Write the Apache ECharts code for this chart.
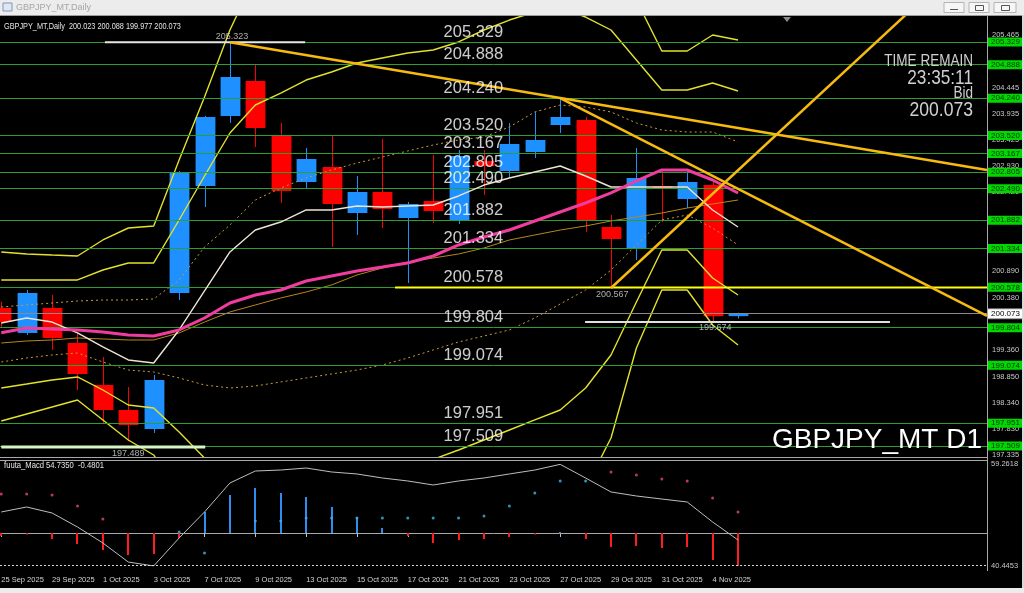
<!DOCTYPE html>
<html><head><meta charset="utf-8">
<script src="https://cdn.jsdelivr.net/npm/echarts@6/dist/echarts.min.js"></script>
<style>html,body{margin:0;padding:0;background:#000;overflow:hidden}#c{width:1024px;height:593px}</style>
</head><body><div id="c"></div>
<script>
const dates = ['25 Sep 2025','26 Sep 2025','29 Sep 2025','30 Sep 2025','1 Oct 2025','2 Oct 2025','3 Oct 2025','6 Oct 2025','7 Oct 2025','8 Oct 2025','9 Oct 2025','10 Oct 2025','13 Oct 2025','14 Oct 2025','15 Oct 2025','16 Oct 2025','17 Oct 2025','20 Oct 2025','21 Oct 2025','22 Oct 2025','23 Oct 2025','24 Oct 2025','27 Oct 2025','28 Oct 2025','29 Oct 2025','30 Oct 2025','31 Oct 2025','3 Nov 2025','4 Nov 2025','5 Nov 2025'];
// open, close, low, high
const candles = [
[200.18,199.91,199.80,200.30],[199.697,200.471,199.658,200.529],[200.181,199.600,199.368,200.432],[199.503,198.903,198.593,199.697],
[198.690,198.206,197.935,199.232],[198.206,197.916,197.600,198.651],[197.838,198.787,197.761,198.884],[200.471,202.794,200.335,202.830],
[202.542,203.878,202.136,203.900],[203.897,204.652,203.762,205.323],[204.575,203.665,203.297,204.884],[203.510,202.445,202.213,203.762],
[202.620,203.065,202.503,203.278],[202.910,202.194,201.361,203.510],[202.019,202.426,201.594,202.736],[202.426,202.097,201.729,203.452],
[201.923,202.194,200.664,202.233],[202.252,202.058,201.826,203.142],[201.884,203.123,201.807,203.239],[203.026,202.929,202.368,203.239],
[202.832,203.355,202.697,203.762],[203.200,203.433,203.084,203.975],[203.723,203.878,203.568,204.226],[203.820,201.865,201.652,203.878],
[201.748,201.516,200.567,201.981],[201.323,202.697,201.110,203.278],[202.542,202.503,201.845,202.852],[202.290,202.620,202.116,202.794],
[202.561,200.023,199.890,202.620],[200.023,200.073,199.977,200.088]];
const maPink = [199.70,199.793,199.774,199.755,199.716,199.658,199.639,199.755,199.987,200.277,200.432,200.529,200.703,200.800,200.897,200.974,201.052,201.187,201.400,201.555,201.690,201.865,202.039,202.213,202.407,202.639,202.852,202.852,202.658,202.407];
const maWhite = [199.890,199.987,199.909,199.697,199.426,199.174,199.116,199.755,200.510,201.265,201.690,201.845,202.078,202.078,202.155,202.136,202.155,202.174,202.349,202.561,202.697,202.813,202.929,202.736,202.523,202.523,202.523,202.523,202.078,201.748];
const maSlow = [199.503,199.542,199.561,199.600,199.581,199.561,199.561,199.697,199.909,200.103,200.239,200.374,200.490,200.626,200.819,200.955,201.071,201.148,201.226,201.342,201.497,201.594,201.690,201.768,201.865,201.942,202.019,202.116,202.194,202.271];
const bandOuterUp = [201.265,201.226,201.206,201.187,201.497,201.729,201.768,203.045,204.265,205.562,206.6,207.2,207.3,207.2,207.1,207.0,206.9,206.8,206.8,206.9,207.0,207.1,207.2,207.0,206.5,206.14,205.155,205.155,205.465,205.368];
const bandInnerUp = [200.723,200.723,200.723,200.723,200.916,201.052,201.052,201.884,202.736,203.568,204.110,204.342,204.594,204.749,204.923,205.020,205.117,205.175,205.330,205.562,205.755,205.91,205.99,205.813,205.562,204.981,204.400,204.400,204.536,204.381];
const bandInnerLow = [198.632,198.709,198.787,198.845,198.593,198.303,198.245,197.780,197.277,196.6,196.3,196.1,196.0,196.0,196.1,196.3,196.7,197.25,197.432,197.625,197.819,198.013,198.206,198.632,199.271,200.297,201.303,201.303,200.761,200.432];
const bandOuterLow = [197.993,198.129,198.264,198.400,198.013,197.625,197.335,196.6,196.0,195.6,195.3,195.1,195.0,195.0,195.0,195.1,195.3,195.6,195.9,196.2,196.4,196.6,196.8,196.7,197.664,199.406,200.529,200.529,199.851,199.464];
const dashUp = [200.200,200.239,200.277,200.316,200.335,200.335,200.355,200.723,201.361,201.787,202.271,202.503,202.697,202.852,202.987,203.103,203.220,203.336,203.433,203.491,203.684,203.975,204.110,204.071,203.975,203.762,203.626,203.587,203.587,203.394];
const dashLow = [199.135,199.213,199.271,199.309,199.135,198.980,198.942,198.826,198.690,198.632,198.671,198.748,198.826,198.903,198.980,199.077,199.213,199.368,199.522,199.639,199.755,199.987,200.258,200.529,200.916,201.400,201.884,201.981,201.729,201.400];
const levels = [205.329,204.888,204.240,203.520,203.167,202.805,202.490,201.882,201.334,200.578,199.804,199.074,197.951,197.509];
const bidPrice = 200.073;
const priceTicks = [205.465,204.445,203.935,203.425,202.930,202.420,200.890,200.380,199.360,198.850,198.340,197.830,197.335];
const trendHigh = [[9,205.323],[38.8,202.852]];
const trendMid = [[22,204.245],[38.8,200.03]];
const trendUp = [[24,200.567],[35.6,205.855]];
const supportLine = [[15.5,200.578],[38.8,200.578]];
const highLine = [[4.08,205.323],[11.96,205.323]];
const lowLineLeft = [[0,197.489],[8.03,197.489]];
const lowLineRight = [[22.98,199.91],[34.98,199.91]];
const markTexts = [[9.08,205.323,'205.323','top'],[5.0,197.489,'197.489','bottom'],[28.1,199.91,'199.674','bottom'],[24.05,200.567,'200.567','bottom']];
const macdSignal = [50.41,51.33,50.22,47.64,44.69,41.18,40.45,45.61,50.41,55.76,57.97,58.15,58.52,57.79,57.42,56.68,56.13,55.39,56.13,56.68,57.42,58.15,59.20,56.68,54.10,53.36,52.80,52.25,48.56,45.24];
const macdHist = [-0.55,-0.18,-1.11,-2.03,-3.14,-4.06,-3.87,-0.9,3.87,7.01,8.30,7.38,6.64,4.80,2.95,0.92,-0.55,-1.84,-1.29,-1.11,-0.74,-0.18,0.18,-1.11,-2.58,-2.40,-2.77,-2.58,-4.98,-6.09];
const dotsPink = [53.73,53.73,53.54,51.51,49.12,null,null,null,null,null,null,null,null,null,null,null,null,null,null,null,null,null,null,null,57.79,57.23,56.49,56.13,52.99,50.41];
const dotsCyan = [null,null,null,null,null,null,null,46.72,42.84,null,48.75,48.75,49.30,49.30,49.30,49.30,49.30,49.30,49.30,49.67,51.51,53.91,56.13,56.13,null,null,null,null,null,null];
const macdTicks = [59.2618,40.4453];

const FF = "'Liberation Sans', Arial, sans-serif";
const LABEL_X = 17.39;
const XMIN = -0.05, XMAX = 38.8;
const idx = a => a.map((v,i)=>[i,v]);
const pts = a => a.map((v,i)=>v==null?null:[i,v]).filter(Boolean);

const chart = echarts.init(document.getElementById('c'), null, {renderer:'canvas'});

function lineS(name, data, color, width, type, z){
  return {name, type:'line', data, xAxisIndex:0, yAxisIndex:0, showSymbol:false, symbol:'none', clip:true, z: z||4,
    lineStyle:{color, width, type: type||'solid'}, silent:true, animation:false};
}
const dateTicks = dates.map((d,i)=>i).filter(i=>i%2===0 && i<29);

const option = {
  backgroundColor:'#000',
  animation:false,
  grid:[
    {left:0, top:16, width:987, height:441, outerBoundsMode:'none', containLabel:false},
    {left:0, top:464, width:987, height:102, outerBoundsMode:'none', containLabel:false}
  ],
  xAxis:[
    {gridIndex:0, type:'value', min:XMIN, max:XMAX, show:false},
    {gridIndex:1, type:'value', min:XMIN, max:XMAX, offset:5,
      axisLine:{show:true, lineStyle:{color:'#a8a8a8'}}, splitLine:{show:false},
      axisTick:{show:true, length:4, customValues: dateTicks, lineStyle:{color:'#c0c0c0'}},
      axisLabel:{customValues: dateTicks, formatter:v=>dates[Math.round(v)], align:'left',
        color:'#d4d4d4', fontSize:7.5, fontFamily:FF, margin:5}}
  ],
  yAxis:[
    {gridIndex:0, type:'value', min:197.296, max:205.833, position:'right', axisLine:{show:false}, splitLine:{show:false},
      axisTick:{show:false},
      axisLabel:{customValues:priceTicks, formatter:v=>v.toFixed(3), color:'#c8c8c8', fontSize:7.5, fontFamily:FF, margin:5}},
    {gridIndex:1, type:'value', min:40.4453, max:59.2618, position:'right', axisLine:{show:false}, splitLine:{show:false},
      axisTick:{show:false},
      axisLabel:{customValues:macdTicks, formatter:v=>v.toFixed(4), color:'#c8c8c8', fontSize:7.5, fontFamily:FF, margin:4}},
    {gridIndex:1, type:'value', min:-6.088, max:12.729, show:false}
  ],
  series:[
    {name:'levels', type:'line', data:[], xAxisIndex:0, yAxisIndex:0, z:1, silent:true,
      markLine:{silent:true, symbol:['none','none'], animation:false, emphasis:{disabled:true},
        lineStyle:{color:'#2e9e2e', width:1, type:'solid'},
        label:{show:true, position:'end', distance:1, formatter:'{b}', backgroundColor:'#00d800',
          color:'#063006', fontSize:8, fontFamily:FF, padding:[1,3,0,3]},
        data: levels.map(v=>({yAxis:v, name:v.toFixed(3)}))}},
    {name:'bid', type:'line', data:[], xAxisIndex:0, yAxisIndex:0, z:2, silent:true,
      markLine:{silent:true, symbol:['none','none'], animation:false, emphasis:{disabled:true},
        lineStyle:{color:'#8a8a8a', width:1, type:'solid'},
        label:{show:true, position:'end', distance:1, formatter:'{b}', backgroundColor:'#ffffff',
          color:'#000', fontSize:8, fontFamily:FF, padding:[1,3,0,3], borderColor:'#888', borderWidth:1},
        data:[{yAxis:bidPrice, name:bidPrice.toFixed(3)}]}},
    lineS('maSlow', idx(maSlow), '#b8861a', 1, 'solid', 3),
    lineS('dashUp', idx(dashUp), '#c89a3c', 1, [2,3], 3),
    lineS('dashLow', idx(dashLow), '#c89a3c', 1, [2,3], 3),
    {name:'candles', type:'custom', xAxisIndex:0, yAxisIndex:0, z:3, clip:true, silent:true,
      data: candles.map((d,i)=>[i,d[0],d[1],d[2],d[3]]),
      renderItem:function(params, api){
        const i=api.value(0), o=api.value(1), c=api.value(2), l=api.value(3), h=api.value(4);
        const pO=api.coord([i,o]), pC=api.coord([i,c]), pL=api.coord([i,l]), pH=api.coord([i,h]);
        const w=api.size([1,0])[0]*0.78;
        const col = c>=o ? '#1e90ff' : '#ff0000';
        const top=Math.min(pO[1],pC[1]), bot=Math.max(pO[1],pC[1]);
        const x=Math.round(pO[0]);
        return {type:'group', children:[
          {type:'line', shape:{x1:x+0.5,y1:pH[1],x2:x+0.5,y2:pL[1]}, style:{stroke:col, lineWidth:1}},
          {type:'rect', shape:{x:x-w/2+0.5, y:top, width:w, height:Math.max(bot-top,1.5)}, style:{fill:col}}
        ]};
      }},
    lineS('bandOuterUp', idx(bandOuterUp), '#e2e22c', 1.4, 'solid', 4),
    lineS('bandInnerUp', idx(bandInnerUp), '#e2e22c', 1.4, 'solid', 4),
    lineS('bandInnerLow', idx(bandInnerLow), '#e2e22c', 1.4, 'solid', 4),
    lineS('bandOuterLow', idx(bandOuterLow), '#e2e22c', 1.4, 'solid', 4),
    lineS('maWhite', idx(maWhite), '#eee4d4', 1.4, 'solid', 5),
    lineS('maPink', idx(maPink), '#f03c9e', 3, 'solid', 5),
    lineS('highLine', highLine, '#e6e6e6', 2, 'solid', 6),
    lineS('lowLineLeft', lowLineLeft, '#d4f5c4', 3, 'solid', 6),
    lineS('lowLineRight', lowLineRight, '#e0e0e0', 2, 'solid', 6),
    lineS('support', supportLine, '#ffff10', 2, 'solid', 6),
    lineS('trendHigh', trendHigh, '#f7bb10', 2.5, 'solid', 7),
    lineS('trendMid', trendMid, '#f7bb10', 2.5, 'solid', 7),
    lineS('trendUp', trendUp, '#f7bb10', 2.5, 'solid', 7),
    {name:'levelLabels', type:'scatter', xAxisIndex:0, yAxisIndex:0, z:8, silent:true, symbolSize:1,
      itemStyle:{color:'rgba(0,0,0,0)'},
      data: levels.map(v=>({value:[LABEL_X, v], name:v.toFixed(3)})),
      label:{show:true, position:'right', distance:0, offset:[0,-10], formatter:'{b}',
        color:'#ffffff', fontSize:16.5, fontFamily:FF}},
    {name:'markTexts', type:'scatter', xAxisIndex:0, yAxisIndex:0, z:8, silent:true, symbolSize:1,
      itemStyle:{color:'rgba(0,0,0,0)'},
      data: markTexts.map(m=>({value:[m[0],m[1]], label:{position:m[3]}, name:m[2]})),
      label:{show:true, distance:1, formatter:'{b}', color:'#d8d8d8', fontSize:9, fontFamily:FF}},
    {name:'signal', type:'line', xAxisIndex:1, yAxisIndex:1, data: idx(macdSignal), showSymbol:false, symbol:'none', z:4, silent:true,
      lineStyle:{color:'#bdbdbd', width:1},
      markLine:{silent:true, symbol:['none','none'], emphasis:{disabled:true}, label:{show:false},
        lineStyle:{color:'#d8d8d8', width:1, type:[2,2]}, data:[{yAxis:40.62}]}},
    {name:'hist', type:'custom', xAxisIndex:1, yAxisIndex:2, z:3, silent:true, clip:true,
      data: idx(macdHist),
      renderItem:function(params, api){
        const i=api.value(0), v=api.value(1);
        const p0=api.coord([i,0]), p1=api.coord([i,v]);
        const x=Math.round(p0[0]);
        return {type:'rect', shape:{x:x-1, y:Math.min(p0[1],p1[1]), width:2, height:Math.max(Math.abs(p1[1]-p0[1]),1.5)},
          style:{fill: v>=0 ? '#2f8cf0' : '#ff1e1e'}};
      }},
    {name:'dotsPink', type:'scatter', xAxisIndex:1, yAxisIndex:1, data: pts(dotsPink), symbolSize:3, z:5, silent:true,
      itemStyle:{color:'#e8457e'}},
    {name:'dotsCyan', type:'scatter', xAxisIndex:1, yAxisIndex:1, data: pts(dotsCyan), symbolSize:3, z:5, silent:true,
      itemStyle:{color:'#40b4e6'}}
  ],
  graphic:[
    {type:'rect', z:100, shape:{x:0,y:0,width:1024,height:15}, style:{fill:'#ececec'}},
    {type:'line', z:100, shape:{x1:0,y1:15.5,x2:1024,y2:15.5}, style:{stroke:'#9c9c9c', lineWidth:1}},
    {type:'rect', z:101, shape:{x:3,y:3,width:9,height:8}, style:{fill:'#dfe8f2', stroke:'#7a96b8', lineWidth:1}},
    {type:'text', z:101, x:16, y:8, style:{text:'GBPJPY_MT,Daily', fill:'#a6a6a6', font:'9px '+FF, verticalAlign:'middle', textVerticalAlign:'middle'}},
    {type:'rect', z:101, shape:{x:944,y:2.5,width:20,height:10}, style:{fill:'#f6f6f6', stroke:'#b4b4b4', lineWidth:1}},
    {type:'rect', z:101, shape:{x:969,y:2.5,width:20,height:10}, style:{fill:'#f6f6f6', stroke:'#b4b4b4', lineWidth:1}},
    {type:'rect', z:101, shape:{x:994,y:2.5,width:22,height:10}, style:{fill:'#f6f6f6', stroke:'#b4b4b4', lineWidth:1}},
    {type:'line', z:102, shape:{x1:950,y1:9.5,x2:958,y2:9.5}, style:{stroke:'#555', lineWidth:1}},
    {type:'rect', z:102, shape:{x:975.5,y:5.5,width:8,height:5}, style:{fill:'none', stroke:'#555', lineWidth:1}},
    {type:'rect', z:102, shape:{x:1001.5,y:5.5,width:8,height:5}, style:{fill:'none', stroke:'#555', lineWidth:1}},
    {type:'rect', z:100, shape:{x:0,y:588,width:1024,height:5}, style:{fill:'#ececec'}},
    {type:'rect', z:100, shape:{x:1022,y:15,width:2,height:573}, style:{fill:'#d8d8d8'}},
    {type:'line', z:50, shape:{x1:987.5,y1:16,x2:987.5,y2:571}, style:{stroke:'#a8a8a8', lineWidth:1}},
    {type:'line', z:50, shape:{x1:0,y1:457.5,x2:988,y2:457.5}, style:{stroke:'#a8a8a8', lineWidth:1}},
    {type:'line', z:50, shape:{x1:0,y1:460.5,x2:988,y2:460.5}, style:{stroke:'#a8a8a8', lineWidth:1}},
    {type:'polygon', z:50, shape:{points:[[783,17],[791,17],[787,22]]}, style:{fill:'#8a8a8a'}},
    {type:'text', z:60, x:4, y:27, scaleX:0.86, style:{text:'GBPJPY_MT,Daily  200.023 200.088 199.977 200.073', fill:'#e4e4e4', font:'8.5px '+FF, verticalAlign:'middle', textVerticalAlign:'middle'}},
    {type:'text', z:60, x:4, y:466, scaleX:0.9, style:{text:'fuuta_Macd 54.7350  -0.4801', fill:'#e4e4e4', font:'8.5px '+FF, verticalAlign:'middle', textVerticalAlign:'middle'}},
    {type:'text', z:60, x:973, y:61, scaleX:0.82, style:{text:'TIME REMAIN', fill:'#cfcfcf', font:'16.5px '+FF, align:'right', textAlign:'right', verticalAlign:'middle', textVerticalAlign:'middle'}},
    {type:'text', z:60, x:973, y:78, scaleX:0.82, style:{text:'23:35:11', fill:'#cfcfcf', font:'21px '+FF, align:'right', textAlign:'right', verticalAlign:'middle', textVerticalAlign:'middle'}},
    {type:'text', z:60, x:973, y:93, scaleX:0.82, style:{text:'Bid', fill:'#cfcfcf', font:'16.5px '+FF, align:'right', textAlign:'right', verticalAlign:'middle', textVerticalAlign:'middle'}},
    {type:'text', z:60, x:973, y:110, scaleX:0.88, style:{text:'200.073', fill:'#cfcfcf', font:'20px '+FF, align:'right', textAlign:'right', verticalAlign:'middle', textVerticalAlign:'middle'}},
    {type:'text', z:60, x:982, y:440, style:{text:'GBPJPY_MT D1', fill:'#ffffff', font:'28px '+FF, align:'right', textAlign:'right', verticalAlign:'middle', textVerticalAlign:'middle'}}
  ]
};
chart.setOption(option);
</script></body></html>
